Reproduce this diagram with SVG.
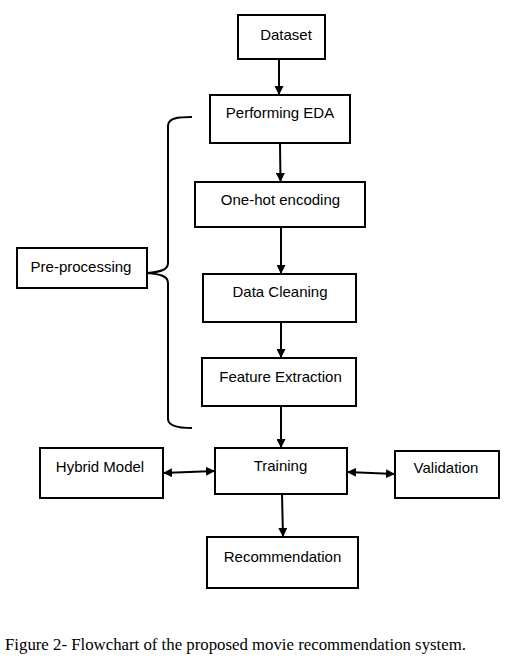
<svg xmlns="http://www.w3.org/2000/svg" width="508" height="658" viewBox="0 0 508 658">
<style>
.box{fill:#fff;stroke:#000;stroke-width:2}
.lbl{font-family:"Liberation Sans",Arial,sans-serif;font-size:15px;fill:#000;text-anchor:middle}
.con{fill:none;stroke:#000;stroke-width:2}
.cap{font-family:"Liberation Serif","Times New Roman",serif;font-size:16.8px;fill:#000}
</style>
<defs>
<marker id="ah" viewBox="0 0 10 10" refX="10" refY="5" markerWidth="4.5" markerHeight="4.5" orient="auto-start-reverse" markerUnits="strokeWidth">
<path d="M0,0 L10,5 L0,10 z" fill="#000"/>
</marker>
</defs>
<rect width="508" height="658" fill="#fff"/>
<g id="connectors">
<line class="con" x1="279" y1="59" x2="279" y2="95" marker-end="url(#ah)"/>
<line class="con" x1="280" y1="143" x2="280.5" y2="182" marker-end="url(#ah)"/>
<line class="con" x1="281" y1="227" x2="281" y2="274" marker-end="url(#ah)"/>
<line class="con" x1="281" y1="322" x2="281" y2="358" marker-end="url(#ah)"/>
<line class="con" x1="281" y1="406" x2="281" y2="448" marker-end="url(#ah)"/>
<line class="con" x1="282" y1="494" x2="283" y2="537" marker-end="url(#ah)"/>
<line class="con" x1="163" y1="473" x2="215" y2="471" marker-start="url(#ah)" marker-end="url(#ah)"/>
<line class="con" x1="347" y1="472" x2="395" y2="474" marker-start="url(#ah)" marker-end="url(#ah)"/>
<path id="brace" class="con" d="M192,117 C178,117 168,118 168,126 L168,263 C168,270 160,272 147,273 C160,274 168,276 168,283 L168,419 C168,426 178,428 192,428"/>
</g>
<g id="dataset"><rect class="box" x="238" y="15" width="87" height="44"/><text class="lbl" x="286" y="40">Dataset</text></g>
<g id="eda"><rect class="box" x="210" y="95" width="140" height="48"/><text class="lbl" x="280" y="118">Performing EDA</text></g>
<g id="onehot"><rect class="box" x="195" y="182" width="170" height="45"/><text class="lbl" x="280.5" y="205">One-hot encoding</text></g>
<g id="cleaning"><rect class="box" x="203" y="274" width="153" height="48"/><text class="lbl" x="280" y="297">Data Cleaning</text></g>
<g id="feature"><rect class="box" x="202" y="358" width="154" height="48"/><text class="lbl" x="280.5" y="382">Feature Extraction</text></g>
<g id="training"><rect class="box" x="215" y="448" width="132" height="46"/><text class="lbl" x="280.5" y="471">Training</text></g>
<g id="preprocessing"><rect class="box" x="17" y="248" width="130" height="40"/><text class="lbl" x="81" y="272">Pre-processing</text></g>
<g id="hybrid"><rect class="box" x="40" y="448" width="123" height="50"/><text class="lbl" x="100" y="472">Hybrid Model</text></g>
<g id="validation"><rect class="box" x="395" y="451" width="104" height="47"/><text class="lbl" x="446" y="473">Validation</text></g>
<g id="recommendation"><rect class="box" x="207" y="537" width="151" height="51"/><text class="lbl" x="282.5" y="562">Recommendation</text></g>
<text class="cap" x="5" y="650">Figure 2- Flowchart of the proposed movie recommendation system.</text>
</svg>
